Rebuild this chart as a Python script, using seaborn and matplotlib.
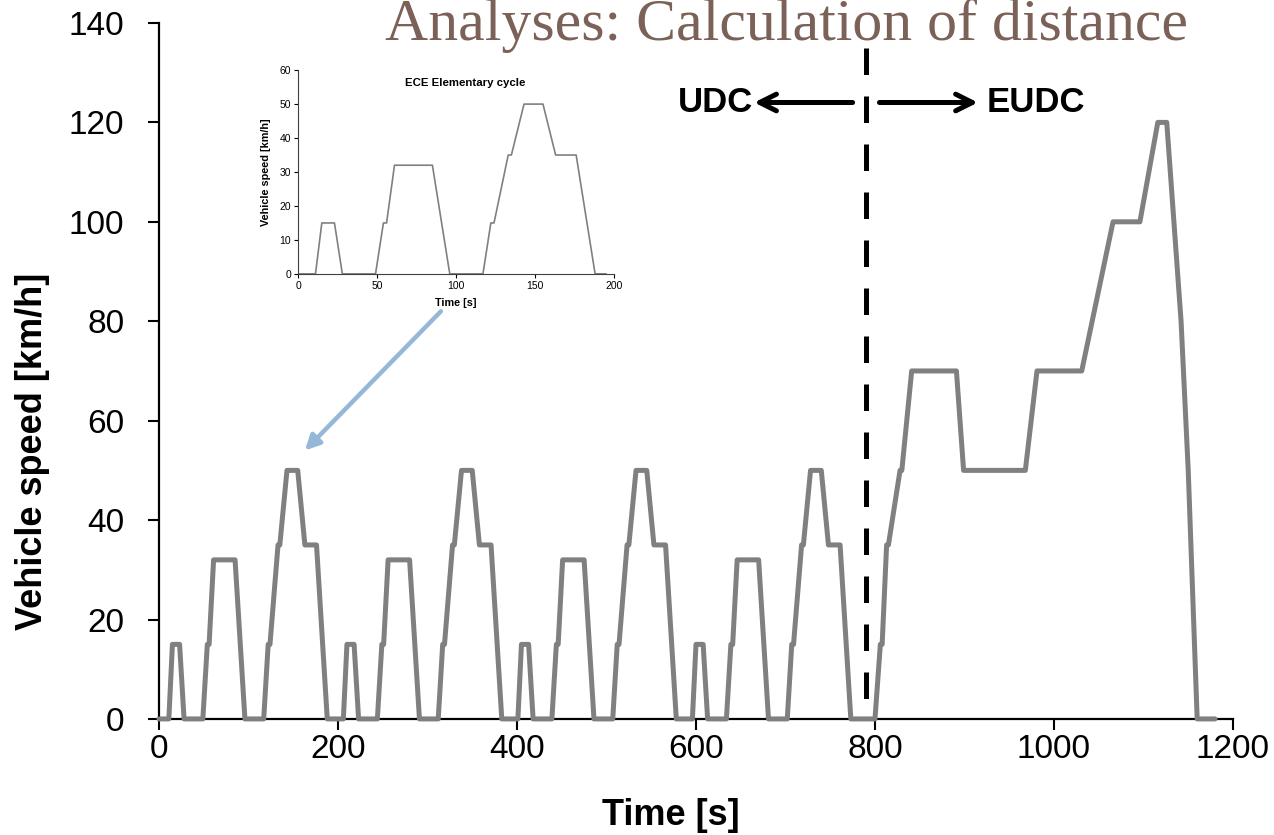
"""NEDC driving cycle: speed vs time with ECE elementary cycle inset."""

import matplotlib
matplotlib.use("Agg")
import matplotlib.pyplot as plt
import numpy as np
import pandas as pd
import seaborn as sns

# ECE-15 elementary urban cycle, breakpoints
ece_time = [0, 11, 15, 23, 28, 49, 54, 56, 61, 85, 96, 117, 122, 124, 133, 135,
            143, 155, 163, 176, 188, 195]
ece_speed = [0, 0, 15, 15, 0, 0, 15, 15, 32, 32, 0, 0, 15, 15, 35, 35,
             50, 50, 35, 35, 0, 0]

# EUDC extra-urban part, time relative to its own start
eudc_time = [0, 20, 26, 28, 33, 35, 48, 50, 61, 111, 119, 188, 201, 251, 286,
             316, 336, 346, 362, 370, 380, 400]
eudc_speed = [0, 0, 15, 15, 35, 35, 50, 50, 70, 70, 50, 50, 70, 70, 100,
              100, 120, 120, 80, 50, 0, 0]

ece_repeats = 4
ece_length = 195
udc_eudc_split = 790

x_ticks = [0, 200, 400, 600, 800, 1000, 1200]
y_ticks = [0, 20, 40, 60, 80, 100, 120, 140]
inset_x_ticks = [0, 50, 100, 150, 200]
inset_y_ticks = [0, 10, 20, 30, 40, 50, 60]

title_text = "Analyses: Calculation of distance"

# build the full cycle table
parts = []
for k in range(ece_repeats):
    parts.append(pd.DataFrame({"t": np.array(ece_time) + k * ece_length, "v": ece_speed}))
parts.append(pd.DataFrame({"t": np.array(eudc_time) + ece_repeats * ece_length, "v": eudc_speed}))
nedc = pd.concat(parts, ignore_index=True)
ece = pd.DataFrame({"t": ece_time, "v": ece_speed})

sns.set_theme(style="ticks")
plt.rcParams["font.family"] = ["Liberation Sans", "DejaVu Sans"]
plt.rcParams["text.color"] = "black"
plt.rcParams["axes.labelcolor"] = "black"

fig = plt.figure(figsize=(12.74, 8.35), dpi=100)
ax = fig.add_axes([0.1248, 0.139, 0.843, 0.8335])

# background slide title
fig.text(0.302, 0.952, title_text, family=["Liberation Serif", "DejaVu Serif"],
         fontsize=43, color="#7b6157", va="baseline", ha="left", zorder=0)

sns.lineplot(data=nedc, x="t", y="v", ax=ax, estimator=None, sort=False,
             color="#808080", lw=3.6, clip_on=False, zorder=3)

ax.plot([udc_eudc_split, udc_eudc_split], [135, 0], color="black", lw=3.6,
        linestyle=(0, (5.3, 4.3)), clip_on=False, zorder=4)

ax.set_xlim(0, 1200)
ax.set_ylim(0, 140)
ax.set_xticks(x_ticks)
ax.set_yticks(y_ticks)
ax.tick_params(axis="both", direction="out", length=8, width=1.5,
               labelsize=24, colors="black")
ax.tick_params(axis="y", pad=17)
ax.tick_params(axis="x", pad=3)
for side in ["left", "bottom"]:
    ax.spines[side].set_linewidth(1.6)
    ax.spines[side].set_color("black")
sns.despine(ax=ax)
ax.set_xlabel("Time [s]", fontsize=26, fontweight="bold")
ax.set_ylabel("Vehicle speed [km/h]", fontsize=26, fontweight="bold")
ax.xaxis.set_label_coords(0.477, -0.114)
ax.yaxis.set_label_coords(-0.118, 0.384)
ax.yaxis.label.set_va("center")
ax.patch.set_alpha(0)

# UDC / EUDC arrows
ax.annotate("", xy=(665, 124), xytext=(775, 124),
            arrowprops=dict(arrowstyle="->", lw=3.6, color="black", mutation_scale=30,
                            shrinkA=0, shrinkB=0))
ax.annotate("", xy=(915, 124), xytext=(805, 124),
            arrowprops=dict(arrowstyle="->", lw=3.6, color="black", mutation_scale=30,
                            shrinkA=0, shrinkB=0))
ax.text(664, 124, "UDC", fontsize=25, fontweight="bold", ha="right", va="center")
ax.text(925, 124, "EUDC", fontsize=25, fontweight="bold", ha="left", va="center")

# pointer from inset to one elementary cycle
ax.annotate("", xy=(163, 54), xytext=(315, 82),
            arrowprops=dict(arrowstyle="-|>", lw=3.2, color="#95b8d8", mutation_scale=22,
                            shrinkA=0, shrinkB=0))

# inset: ECE elementary cycle
ins = fig.add_axes([0.234, 0.672, 0.248, 0.244])
sns.lineplot(data=ece, x="t", y="v", ax=ins, estimator=None, sort=False,
             color="#808080", lw=1.2)
ins.set_xlim(0, 200)
ins.set_ylim(0, 60)
ins.set_xticks(inset_x_ticks)
ins.set_yticks(inset_y_ticks)
ins.tick_params(axis="both", direction="out", length=3, width=0.8,
                labelsize=7.5, colors="black", pad=2)
for side in ["left", "bottom"]:
    ins.spines[side].set_linewidth(0.8)
    ins.spines[side].set_color("#404040")
sns.despine(ax=ins)
ins.set_xlabel("Time [s]", fontsize=7.8, fontweight="bold", labelpad=5)
ins.set_ylabel("Vehicle speed [km/h]", fontsize=7.8, fontweight="bold", labelpad=6)
ins.set_title("ECE Elementary cycle", fontsize=8.2, fontweight="bold", x=0.53, y=0.88)
ins.patch.set_alpha(0)

fig.savefig("out.png", dpi=100)
